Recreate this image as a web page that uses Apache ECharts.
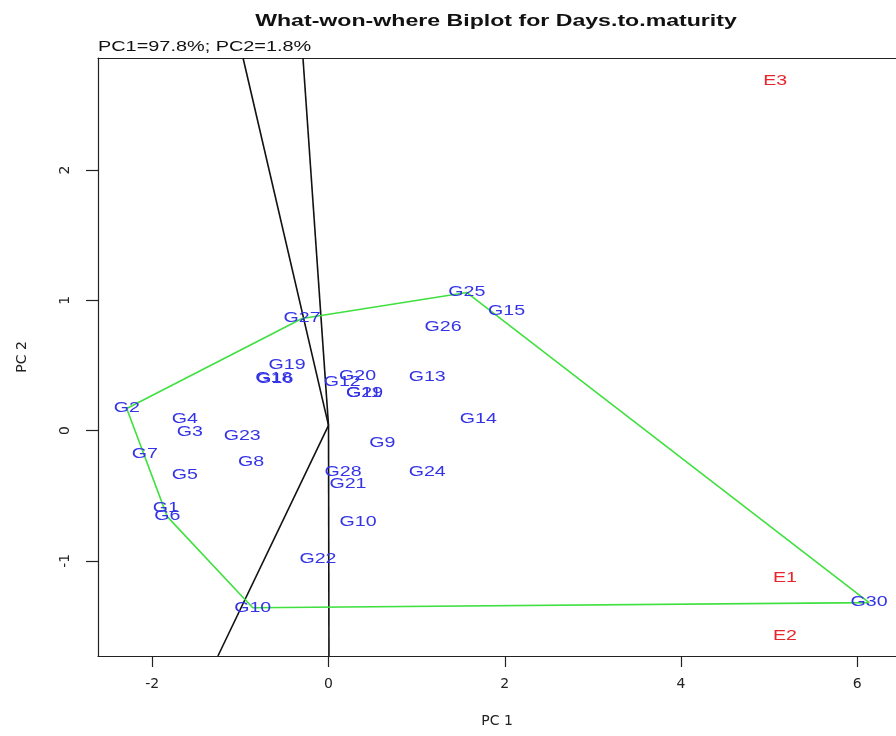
<!DOCTYPE html>
<html>
<head>
<meta charset="utf-8">
<script src="https://cdn.jsdelivr.net/npm/echarts@6/dist/echarts.min.js"></script>
<style>
  html, body { margin: 0; padding: 0; background: #fff; }
  #chart { width: 896px; height: 736px; }
</style>
</head>
<body>
<div id="chart"></div>
<script>
// genotypes (blue labels)
const genoNames = ['G1', 'G2', 'G3', 'G4', 'G5', 'G6', 'G7', 'G8', 'G9', 'G10', 'G10',
  'G11', 'G12', 'G13', 'G14', 'G15', 'G16', 'G18', 'G19', 'G20', 'G21', 'G22', 'G23',
  'G24', 'G25', 'G26', 'G27', 'G28', 'G29', 'G30'];
const genoPC1 = [-1.845, -2.29, -1.575, -1.63, -1.63, -1.83, -2.085, -0.88, 0.61, 0.335, -0.86,
  0.40, 0.155, 1.12, 1.70, 2.02, -0.61, -0.62, -0.47, 0.33, 0.22, -0.12, -0.98,
  1.12, 1.57, 1.30, -0.30, 0.165, 0.41, 6.135];
const genoPC2 = [-0.595, 0.17, -0.015, 0.085, -0.34, -0.66, -0.18, -0.24, -0.095, -0.70, -1.36,
  0.29, 0.375, 0.41, 0.085, 0.92, 0.395, 0.405, 0.50, 0.42, -0.41, -0.99, -0.04,
  -0.32, 1.06, 0.795, 0.86, -0.315, 0.285, -1.32];

// environments (red labels)
const envNames = ['E1', 'E2', 'E3'];
const envPC1 = [5.18, 5.18, 5.07];
const envPC2 = [-1.13, -1.58, 2.68];

// polygon vertices, as indexes into the genotype arrays
const hullIdx = [1, 26, 24, 29, 10, 5, 1];

// sector rays from the origin
const rayStart = [0, 0.04];
const rayEnds = [[-0.29, 2.86], [-0.97, 2.86], [-1.255, -1.73], [0.005, -1.73]];

// axes
const xTicks = [-2, 0, 2, 4, 6];
const yTicks = [-1, 0, 1, 2];

const FONT = '"Liberation Sans", Arial, sans-serif';
const STRETCH = 1.4;
const AXIS_COLOR = '#222';

const chart = echarts.init(document.getElementById('chart'));

const labelSeries = (names, xs, ys, color) => ({
    type: 'custom',
    data: xs.map((x, i) => [x, ys[i]]),
    clip: false,
    z: 5,
    renderItem: (params, api) => {
        const p = api.coord([api.value(0), api.value(1)]);
        return {
            type: 'text',
            x: p[0],
            y: p[1],
            scaleX: STRETCH,
            style: {
                text: names[params.dataIndex],
                fill: color,
                font: '14px ' + FONT,
                align: 'center',
                verticalAlign: 'middle',
            },
        };
    },
});

const option = {
    animation: false,
    backgroundColor: '#fff',
    graphic: [
        {
            type: 'text', x: 496, y: 21, scaleX: 1.36,
            style: {
                text: 'What-won-where Biplot for Days.to.maturity',
                font: 'bold 17px ' + FONT, fill: '#111',
                align: 'center', verticalAlign: 'middle',
            },
        },
        {
            type: 'text', x: 98, y: 47, scaleX: 1.42,
            style: {
                text: 'PC1=97.8%; PC2=1.8%',
                font: '14px ' + FONT, fill: '#111',
                align: 'left', verticalAlign: 'middle',
            },
        },
    ],
    // plot box runs past the right edge of the picture, so no right border
    grid: {
        left: 98,
        top: 58,
        right: 0,
        bottom: 80,
    },
    xAxis: [
        {
            type: 'value',
            min: -2.616,
            max: 6.44,
            position: 'bottom',
            name: 'PC 1',
            nameLocation: 'middle',
            nameGap: 58,
            nameTextStyle: { fontFamily: 'DejaVu Sans', fontSize: 14, color: AXIS_COLOR },
            axisLine: { show: true, onZero: false, lineStyle: { color: AXIS_COLOR, width: 1.2 } },
            splitLine: { show: false },
            axisTick: { show: true, length: 11, customValues: xTicks, lineStyle: { color: AXIS_COLOR, width: 1.2 } },
            axisLabel: { customValues: xTicks, margin: 21, fontFamily: 'DejaVu Sans', fontSize: 14, color: AXIS_COLOR },
        },
        {
            // top side of the box
            type: 'value',
            min: -2.616,
            max: 6.44,
            position: 'top',
            axisLine: { show: true, onZero: false, lineStyle: { color: AXIS_COLOR, width: 1.2 } },
            axisTick: { show: false },
            axisLabel: { show: false },
            splitLine: { show: false },
        },
    ],
    yAxis: {
        type: 'value',
        min: -1.73,
        max: 2.86,
        name: 'PC 2',
        nameLocation: 'middle',
        nameGap: 69,
        nameRotate: 90,
        nameTextStyle: { fontFamily: 'DejaVu Sans', fontSize: 14, color: AXIS_COLOR },
        axisLine: { show: true, onZero: false, lineStyle: { color: AXIS_COLOR, width: 1.2 } },
        splitLine: { show: false },
        axisTick: { show: true, length: 12, customValues: yTicks, lineStyle: { color: AXIS_COLOR, width: 1.2 } },
        axisLabel: { customValues: yTicks, rotate: 90, margin: 26, fontFamily: 'DejaVu Sans', fontSize: 14, color: AXIS_COLOR },
    },
    series: [
        ...rayEnds.map(end => ({
            type: 'line',
            data: [rayStart, end],
            symbol: 'none',
            silent: true,
            lineStyle: { color: '#111', width: 1.6 },
            z: 2,
        })),
        {
            type: 'line',
            data: hullIdx.map(i => [genoPC1[i], genoPC2[i]]),
            symbol: 'none',
            silent: true,
            lineStyle: { color: '#3fe03f', width: 1.6 },
            z: 3,
        },
        labelSeries(genoNames, genoPC1, genoPC2, '#3434e6'),
        labelSeries(envNames, envPC1, envPC2, '#e8242c'),
    ],
};

chart.setOption(option);
</script>
</body>
</html>
